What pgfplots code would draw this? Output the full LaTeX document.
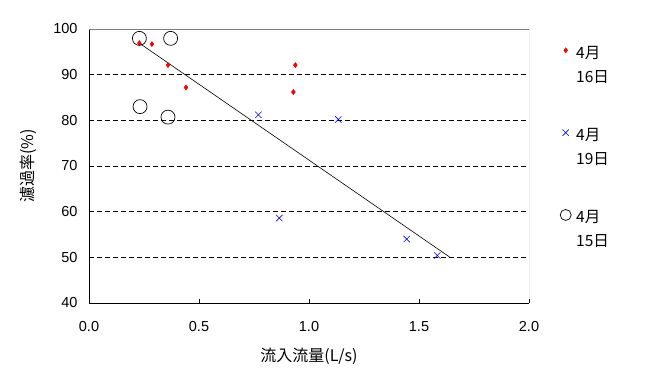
\documentclass[border=0pt]{standalone}
\usepackage{pgfplots}
\pgfplotsset{compat=1.18}
\usepackage{fontspec}
\setmainfont{Liberation Sans}
\newfontfamily\jp{Noto Sans CJK JP}
\begin{document}
\begin{tikzpicture}
\path[use as bounding box] (0pt,0pt) rectangle (648pt,386pt);
\begin{axis}[
  at={(89pt,83pt)}, anchor=south west,
  scale only axis, width=440pt, height=274pt,
  xmin=0, xmax=2, ymin=40, ymax=100,
  xtick={0,0.5,1,1.5,2}, ytick={40,50,60,70,80,90,100},
  xticklabel style={/pgf/number format/fixed, /pgf/number format/fixed zerofill, /pgf/number format/precision=1, yshift=-15pt},
  /pgf/number format/assume math mode=true,
  ticklabel style={font=\fontsize{14.5}{16}\selectfont},
  yticklabel style={xshift=-8pt},
  tick align=inside, major tick length=4pt,
  axis x line*=bottom, axis y line*=left,
  axis line style={black, line width=0.8pt},
  tick style={black, line width=0.6pt},
  extra y ticks={50,60,70,80,90}, extra y tick labels={},
  extra y tick style={grid=major, major tick length=0pt, major grid style={black, line width=0.6pt, dash pattern=on 5pt off 3pt}},
  xlabel={\jp 流入流量(L/s)},
  ylabel={\jp 濾過率(\%)},
  every axis x label/.style={at={(axis description cs:0.5,0)}, anchor=center, yshift=-53pt, font=\fontsize{16}{18}\selectfont},
  every axis y label/.style={at={(axis description cs:0,0.5)}, xshift=-61pt, anchor=center, rotate=90, font=\fontsize{16}{18}\selectfont},
  legend style={draw=none, fill=none, at={(axis description cs:1,1)}, anchor=north west, xshift=28pt, yshift=-8pt,
    font=\jp\fontsize{15.5}{24}\selectfont, row sep=60pt, column sep=3pt, cells={anchor=west}},
  legend cell align=left,
]
\addplot[only marks, mark=diamond*, color=red, mark size=2.6pt] coordinates {
  (0.229,96.9) (0.286,96.7) (0.359,92.1) (0.441,87.2) (0.938,92.1) (0.929,86.2)};
\addlegendentry{\begin{tabular}[t]{@{}l@{}}4月\\16日\end{tabular}}
\addplot[only marks, mark=x, color=blue, mark size=4.5pt, mark options={line width=0.6pt}] coordinates {
  (0.770,81.2) (1.133,80.2) (0.865,58.6) (1.444,54.0) (1.583,50.4)};
\addlegendentry{\begin{tabular}[t]{@{}l@{}}4月\\19日\end{tabular}}
\addplot[only marks, mark=o, color=black, mark size=7pt, mark options={line width=0.7pt}, legend image post style={mark size=5.5pt}] coordinates {
  (0.229,97.95) (0.371,97.95) (0.232,83.0) (0.359,80.7)};
\addlegendentry{\begin{tabular}[t]{@{}l@{}}4月\\15日\end{tabular}}
\addplot[black, line width=0.6pt, forget plot] coordinates {(0.229,96.9) (1.641,50.0)};
\draw[gray, line width=0.8pt] (rel axis cs:0,1) -- (rel axis cs:1,1) -- (rel axis cs:1,0);
\end{axis}
\end{tikzpicture}
\end{document}
